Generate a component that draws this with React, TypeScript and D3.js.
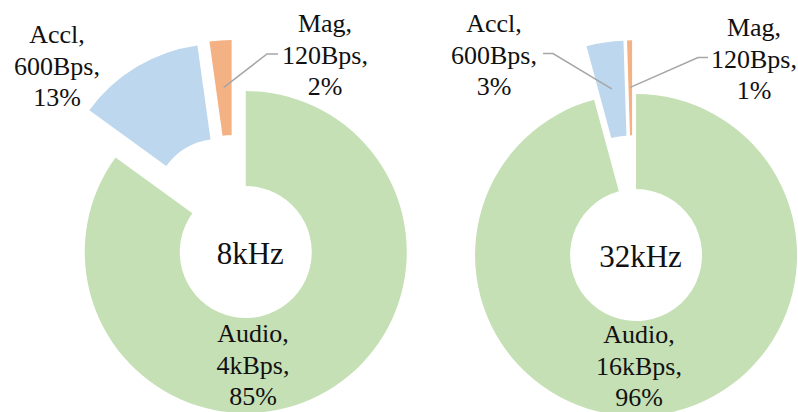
import React from "react";
import * as d3 from "d3";

// ---- data ----
const categories = ["Audio", "Accl", "Mag"];
const sampleRates = ["8kHz", "32kHz"];
const dataRates8k = ["4kBps", "600Bps", "120Bps"];
const dataRates32k = ["16kBps", "600Bps", "120Bps"];
const shares8k = [85, 12.8, 2.2];
const shares32k = [95.8, 3.7, 0.5];
const pctLabels8k = ["85%", "13%", "2%"];
const pctLabels32k = ["96%", "3%", "1%"];

// ---- styles / layout ----
const colors = ["#c5e0b4", "#bdd7ee", "#f4b183"];
const W = 798;
const H = 412;
const R = 161;
const r = 66;
const EXPLODE = 27;
const LEADER_R = 114;
const LINE = 31.7;
const FONT = "'Palatino Linotype', 'Book Antiqua', Palatino, 'Liberation Serif', serif";

const centers: [number, number][] = [
  [233.5, 228],
  [632.5, 228.3],
];

type LabelPos = { x: number; y: number; leader: [number, number][] | null };
const labelLayout: LabelPos[][] = [
  [
    { x: 253, y: 342, leader: null },
    { x: 57, y: 43, leader: null },
    { x: 325, y: 32, leader: [[267, 54], [278, 54]] },
  ],
  [
    { x: 639, y: 343, leader: null },
    { x: 494, y: 32, leader: [[553, 53.5], [543, 53.5]] },
    { x: 754, y: 36, leader: [[698, 57.5], [708, 57.5]] },
  ],
];

const chartsData = [
  { title: sampleRates[0], shares: shares8k, rates: dataRates8k, pcts: pctLabels8k },
  { title: sampleRates[1], shares: shares32k, rates: dataRates32k, pcts: pctLabels32k },
];

const pie = d3.pie<number>().sort(null).value((d) => d).startAngle(0).endAngle(2 * Math.PI);
const arc = d3.arc<d3.PieArcDatum<number>>().innerRadius(r).outerRadius(R);

function Donut({ idx }: { idx: number }) {
  const cd = chartsData[idx];
  const [cx, cy] = centers[idx];
  const arcs = pie(cd.shares);
  const offsets = arcs.map((a) => {
    const m = (a.startAngle + a.endAngle) / 2;
    return { dx: EXPLODE * Math.sin(m), dy: -EXPLODE * Math.cos(m), m };
  });
  const audioOff = offsets[0];
  return (
    <g>
      {arcs.map((a, i) => (
        <path
          key={i}
          d={arc(a) || ""}
          fill={colors[i]}
          transform={`translate(${cx + offsets[i].dx},${cy + offsets[i].dy})`}
        />
      ))}
      {arcs.map((a, i) => {
        const lp = labelLayout[idx][i];
        if (!lp.leader) return null;
        const o = offsets[i];
        const sx = cx + o.dx + LEADER_R * Math.sin(o.m);
        const sy = cy + o.dy - LEADER_R * Math.cos(o.m);
        const pts = [[sx, sy], ...lp.leader];
        return (
          <polyline
            key={"l" + i}
            points={pts.map((p) => p.join(",")).join(" ")}
            fill="none"
            stroke="#a6a6a6"
            strokeWidth={1.5}
          />
        );
      })}
      {arcs.map((a, i) => {
        const lp = labelLayout[idx][i];
        const lines = [categories[i] + ",", cd.rates[i] + ",", cd.pcts[i]];
        return (
          <text
            key={"t" + i}
            x={lp.x}
            y={lp.y}
            textAnchor="middle"
            fontFamily={FONT}
            fontSize={26}
            fill="#111"
          >
            {lines.map((t, k) => (
              <tspan key={k} x={lp.x} dy={k === 0 ? 0 : LINE}>
                {t}
              </tspan>
            ))}
          </text>
        );
      })}
      <text
        x={cx + audioOff.dx + 4.5}
        y={cy + audioOff.dy + 11.5}
        textAnchor="middle"
        fontFamily={FONT}
        fontSize={31}
        fill="#111"
      >
        {cd.title}
      </text>
    </g>
  );
}

export default function App() {
  return (
    <div style={{ position: "absolute", left: 0, top: 0, width: W, height: H, background: "#fff" }}>
      <svg width={W} height={H} viewBox={`0 0 ${W} ${H}`} style={{ display: "block" }}>
        <rect width={W} height={H} fill="#fff" />
        <Donut idx={0} />
        <Donut idx={1} />
      </svg>
    </div>
  );
}
